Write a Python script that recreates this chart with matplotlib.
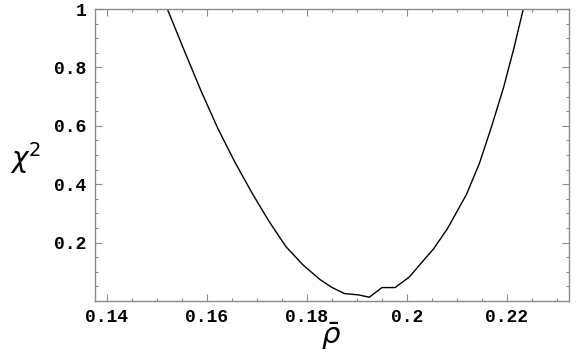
import numpy as np
import matplotlib.pyplot as plt
from matplotlib.ticker import MultipleLocator, FixedLocator

# ── Data ──────────────────────────────────────────────────────────────────────
rho = [0.15207, 0.1554, 0.1588, 0.1622, 0.1656, 0.1690, 0.1724, 0.1758,
       0.1793, 0.1826, 0.18493, 0.18747, 0.19027, 0.19247, 0.1950, 0.1976,
       0.20007, 0.2006, 0.2029, 0.2053, 0.2081, 0.2119, 0.2145, 0.21693,
       0.2193, 0.2213, 0.22327]
chi2 = [1.0, 0.860, 0.720, 0.590, 0.475, 0.370, 0.273, 0.186,
        0.122, 0.0735, 0.047, 0.0256, 0.021, 0.013, 0.046, 0.046,
        0.077, 0.085, 0.131, 0.178, 0.248, 0.365, 0.472, 0.598,
        0.730, 0.860, 1.0]

x_ticks = [0.14, 0.16, 0.18, 0.20, 0.22]
x_tick_labels = ['0.14', '0.16', '0.18', '0.2', '0.22']
y_ticks = [0.2, 0.4, 0.6, 0.8, 1.0]
y_tick_labels = ['0.2', '0.4', '0.6', '0.8', '1']

# ── Figure ────────────────────────────────────────────────────────────────────
plt.rcParams['mathtext.fontset'] = 'dejavusans'
fig = plt.figure(figsize=(5.76, 3.56), dpi=100)
ax = fig.add_axes([0.1649, 0.1545, 0.8229, 0.8202])

ax.plot(rho, chi2, color='black', linewidth=1.0)

ax.set_xlim(0.1376, 0.2324)
ax.set_ylim(0.0, 1.0)

frame_col = '#8a8a8a'
for sp in ax.spines.values():
    sp.set_color(frame_col)
    sp.set_linewidth(1.0)

ax.xaxis.set_major_locator(FixedLocator(x_ticks))
ax.xaxis.set_minor_locator(MultipleLocator(0.005))
ax.yaxis.set_major_locator(FixedLocator(y_ticks))
ax.yaxis.set_minor_locator(MultipleLocator(0.05))
ax.set_xticklabels(x_tick_labels)
ax.set_yticklabels(y_tick_labels)

ax.tick_params(which='both', direction='in', top=True, right=True,
               color=frame_col, width=0.8)
ax.tick_params(which='major', length=5, pad=6)
ax.tick_params(which='minor', length=2.5)

for lab in ax.get_xticklabels() + ax.get_yticklabels():
    lab.set_fontfamily('Liberation Mono')
    lab.set_fontweight('bold')
    lab.set_fontsize(13)

# axis labels placed by hand like the Mathematica frame labels
ax.set_xlabel(r'$\bar{\rho}$', fontsize=21, va='center')
ax.xaxis.set_label_coords(0.499, -0.121)
ax.set_ylabel(r'$\chi^2$', fontsize=20, rotation=0, ha='center', va='center')
ax.yaxis.set_label_coords(-0.146, 0.49)

plt.savefig('out.png', dpi=100)
